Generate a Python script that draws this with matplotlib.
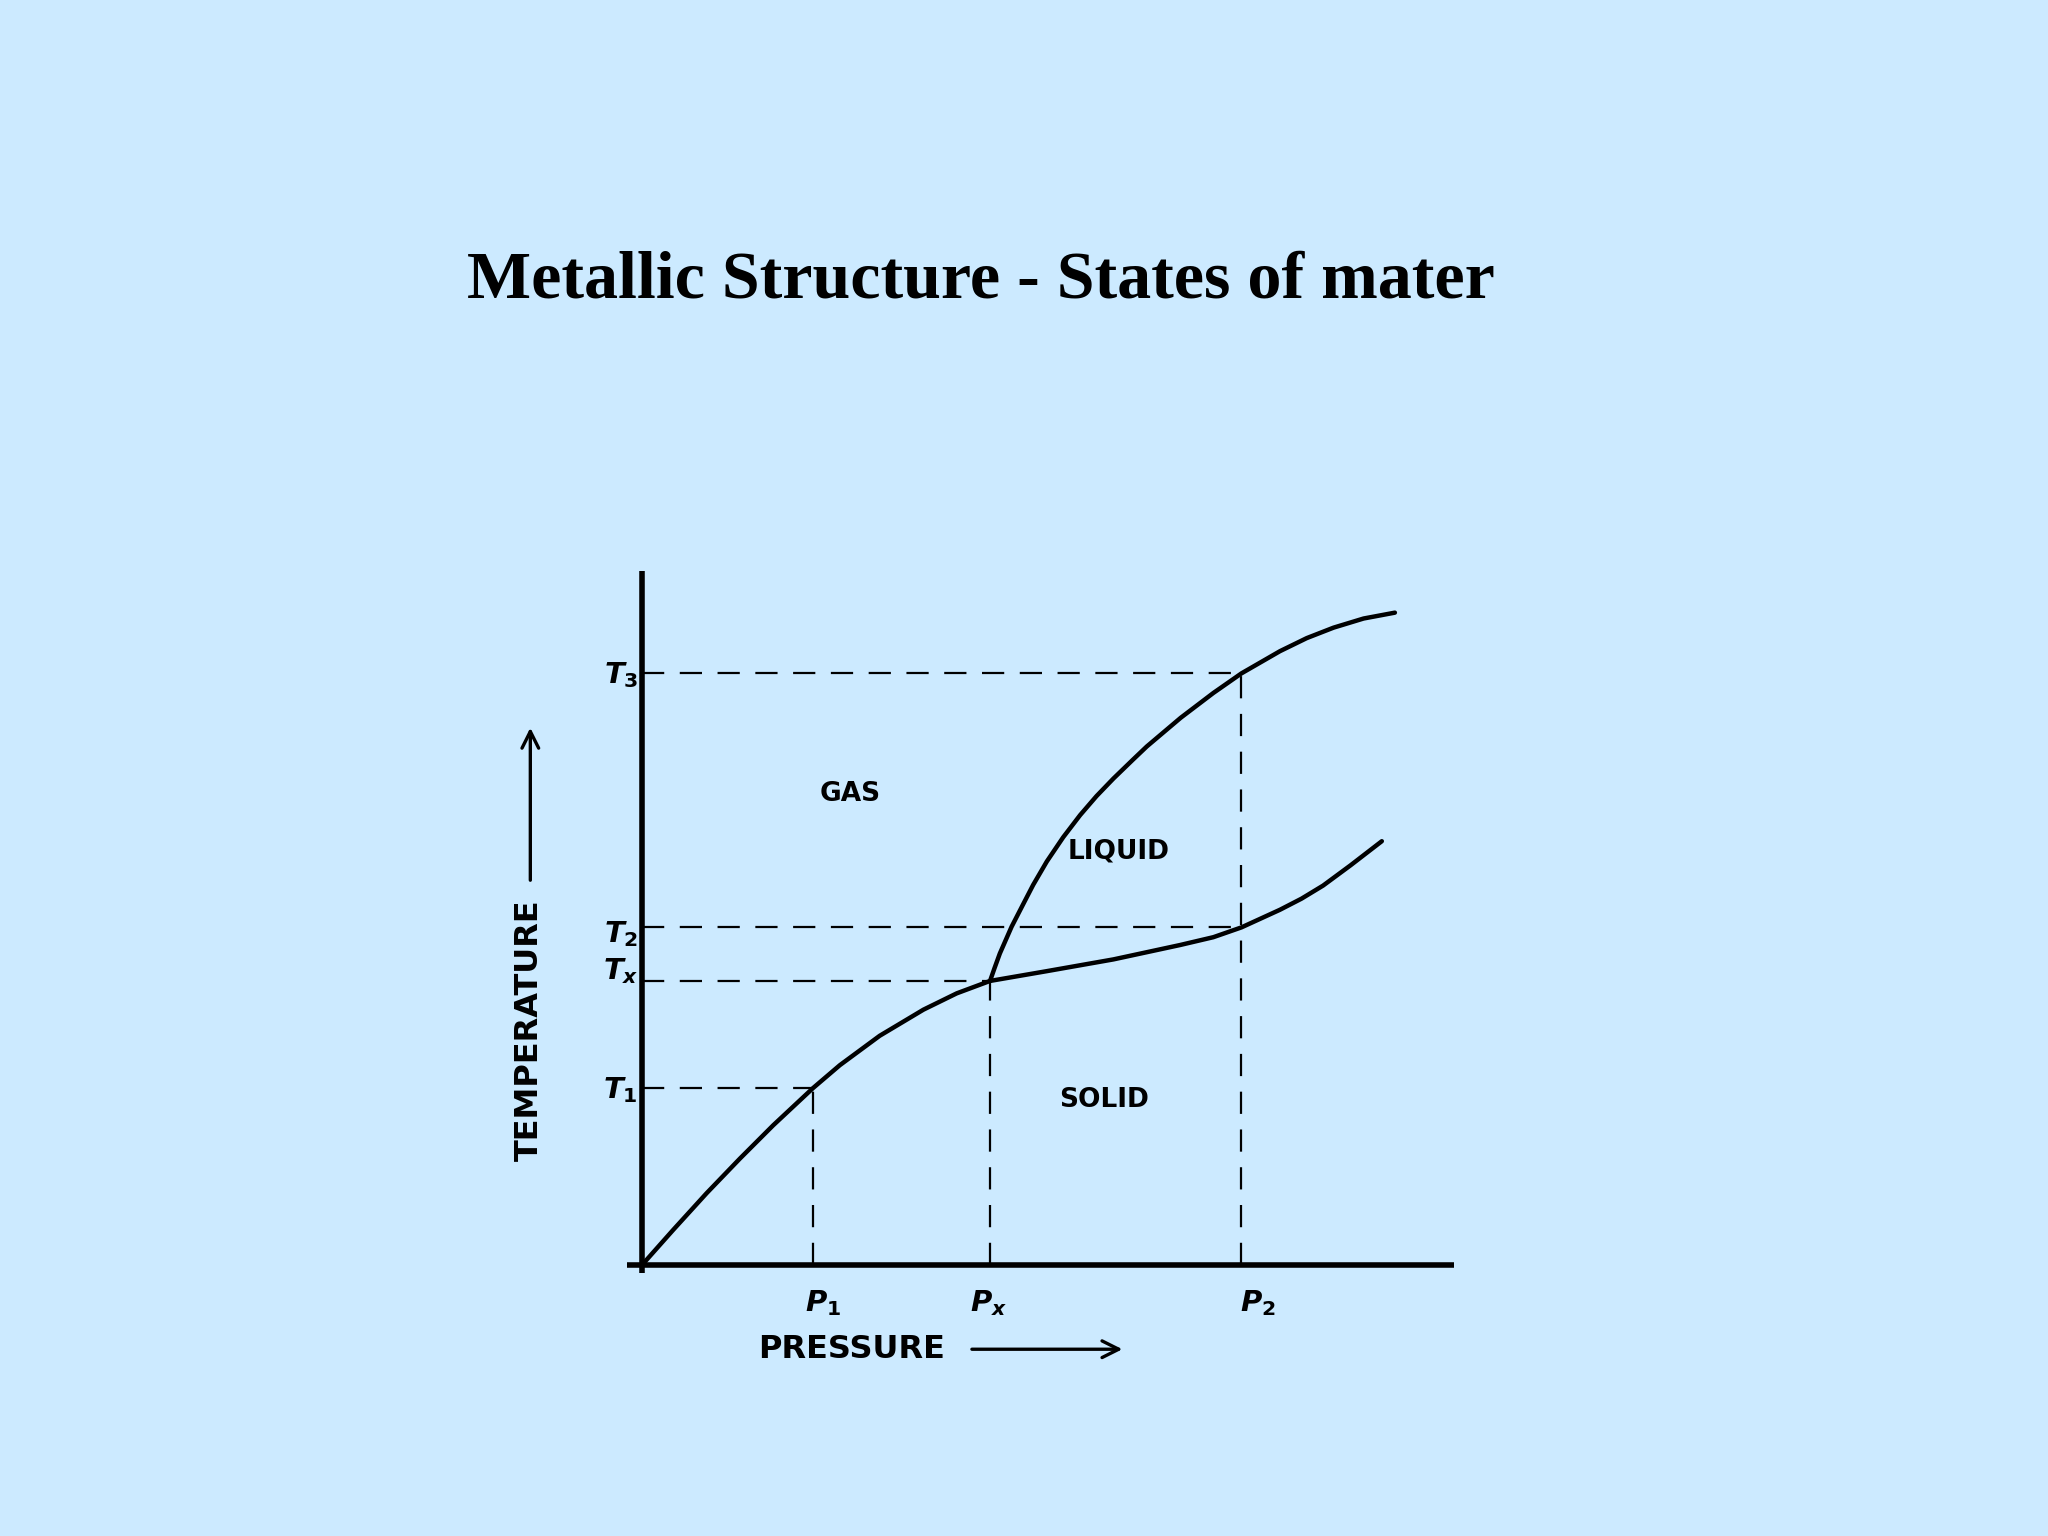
import matplotlib
matplotlib.use('Agg')
import matplotlib.pyplot as plt

# pressure / temperature levels (arbitrary units)
p_levels = [2.62, 5.33, 9.18]          # P1, Px, P2
p_names = [r'$P_1$', r'$P_x$', r'$P_2$']
t_levels = [2.71, 4.35, 5.17, 9.06]    # T1, Tx, T2, T3
t_names = [r'$T_1$', r'$T_x$', r'$T_2$', r'$T_3$']

# solid boundary (sublimation then melting curve)
solid_p = [0.0, 0.48, 0.99, 1.50, 2.01, 2.62, 3.03, 3.64, 4.31, 4.82, 5.33,
           6.20, 7.22, 8.24, 8.75, 9.18, 9.77, 10.10, 10.43, 10.85, 11.33]
solid_t = [0.0, 0.54, 1.10, 1.63, 2.14, 2.71, 3.06, 3.51, 3.91, 4.16, 4.35,
           4.50, 4.68, 4.90, 5.02, 5.17, 5.44, 5.61, 5.81, 6.12, 6.49]

# gas / liquid boundary (boiling curve)
boil_p = [5.33, 5.40, 5.48, 5.66, 5.84, 5.99, 6.20, 6.45, 6.71, 6.96, 7.22,
          7.52, 7.73, 8.25, 8.75, 9.18, 9.77, 10.18, 10.59, 11.05, 11.53]
boil_t = [4.35, 4.55, 4.77, 5.18, 5.53, 5.82, 6.18, 6.55, 6.89, 7.18, 7.45,
          7.74, 7.94, 8.38, 8.76, 9.06, 9.40, 9.60, 9.76, 9.90, 9.99]

plt.rcParams['mathtext.fontset'] = 'custom'
plt.rcParams['mathtext.it'] = 'DejaVu Sans:italic:bold'
plt.rcParams['mathtext.rm'] = 'DejaVu Sans:bold'

bg = '#cceaff'
fig = plt.figure(figsize=(20.48, 15.36), dpi=100, facecolor=bg)

fig.text(0.479, 0.806, 'Metallic Structure - States of mater',
         ha='center', va='baseline', fontsize=49, fontweight='bold',
         family='Liberation Serif')

ax = fig.add_axes([0.23376, 0.09141, 0.47827, 0.55267])
ax.set_facecolor(bg)
ax.set_xlim(-2.5, 12.5)
ax.set_ylim(-2, 11)
ax.axis('off')

# axes lines
ax.plot([-0.23, 12.43], [0, 0], color='black', lw=4, solid_capstyle='butt')
ax.plot([0, 0], [-0.12, 10.63], color='black', lw=4, solid_capstyle='butt')

# dashed guide lines
dash = dict(color='black', lw=1.6, linestyle=(0, (10, 7)))
t1, tx, t2, t3 = t_levels
p1, px, p2 = p_levels
ax.plot([0, p1], [t1, t1], **dash)
ax.plot([0, px], [tx, tx], **dash)
ax.plot([0, p2], [t2, t2], **dash)
ax.plot([0, p2], [t3, t3], **dash)
ax.plot([p1, p1], [0, t1], **dash)
ax.plot([px, px], [0, tx], **dash)
ax.plot([p2, p2], [0, t3], **dash)

# phase boundaries
ax.plot(solid_p, solid_t, color='black', lw=3.2, solid_capstyle='round',
        solid_joinstyle='round')
ax.plot(boil_p, boil_t, color='black', lw=3.2, solid_capstyle='round',
        solid_joinstyle='round')

# level labels
t_off = [-0.03, 0.15, -0.1, -0.03]
for t, name, off in zip(t_levels, t_names, t_off):
    ax.text(-0.06, t + off, name, ha='right', va='center', fontsize=21)
p_pos = [2.77, 5.31, 9.43]
for p, name in zip(p_pos, p_names):
    ax.text(p, -0.58, name, ha='center', va='center', fontsize=21)

# region labels
lab = dict(ha='center', va='center', fontsize=19, fontweight='bold')
ax.text(3.19, 7.21, 'GAS', **lab)
ax.text(7.30, 6.33, 'LIQUID', **lab)
ax.text(7.07, 2.53, 'SOLID', **lab)

# axis titles with arrows
ax.text(3.21, -1.29, 'PRESSURE', ha='center', va='center', fontsize=23,
        fontweight='bold')
ax.annotate('', xy=(7.40, -1.29), xytext=(5.01, -1.29),
            arrowprops=dict(arrowstyle='->', lw=2.4, color='black',
                            mutation_scale=30))
ax.text(-1.73, 3.59, 'TEMPERATURE', ha='center', va='center', fontsize=23,
        fontweight='bold', rotation=90)
ax.annotate('', xy=(-1.71, 8.27), xytext=(-1.71, 5.85),
            arrowprops=dict(arrowstyle='->', lw=2.4, color='black',
                            mutation_scale=30))

fig.savefig('out.png', dpi=100, facecolor=bg)
